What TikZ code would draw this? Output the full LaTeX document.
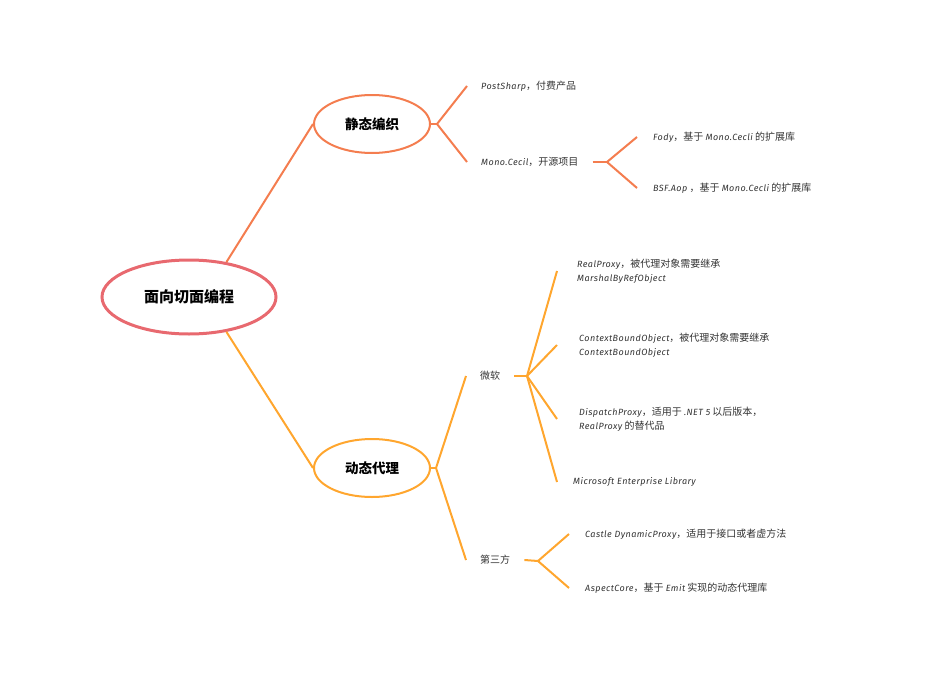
\documentclass[tikz,border=0pt]{standalone}
\usepackage{fontspec}
\setmainfont{Noto Sans CJK SC}
\newfontfamily\enfont[LetterSpace=5,Scale=0.9]{Fira Sans}
\newcommand\en[1]{{\enfont\itshape #1}}
\usetikzlibrary{shapes.geometric}
\definecolor{rootred}{HTML}{E8696F}
\definecolor{statorange}{HTML}{F47D4F}
\definecolor{dynamber}{HTML}{FFA62E}
\tikzset{
	topic/.style={ellipse,draw,line width=2pt,fill=white,inner sep=0pt,minimum width=116pt,minimum height=58pt,font=\bfseries\fontsize{13.5}{16}\selectfont},
	leaf/.style={anchor=west,align=left,text=black!80,inner xsep=16pt,inner ysep=0pt,font=\fontsize{10}{14}\selectfont},
	twig/.style={anchor=west,text=black!80,inner xsep=14pt,inner ysep=0pt,font=\fontsize{10}{14}\selectfont},
}
\begin{document}
\begin{tikzpicture}[x=1pt,y=-1pt]
		\useasboundingbox (0,0) rectangle (945,685);
		
		\node[ellipse,draw=rootred,line width=3pt,inner sep=0pt,minimum width=174pt,minimum height=74pt,font=\bfseries\fontsize{15}{18}\selectfont] (root) at (189,297) {面向切面编程};
		
		\node[topic,draw=statorange] (static) at (372,124) {静态编织};
		\node[topic,draw=dynamber] (dynamic) at (372,468) {动态代理};
		
		\draw[statorange,line width=2pt] (root.43) -- (static.west);
		\draw[dynamber,line width=2pt] (root.-43) -- (dynamic.west);
		
		% static weaving
		\coordinate (js) at (437,124);
		\node[twig] (post) at (467,86) {\en{PostSharp}，付费产品};
		\node[twig] (mono) at (467,162) {\en{Mono.Cecil}，开源项目};
		\coordinate (jm) at (607,162);
		\node[leaf] (fody) at (637,137) {\en{Fody}，基于 \en{Mono.Cecli} 的扩展库};
		\node[leaf] (bsf) at (637,188) {\en{BSF.Aop} ，基于 \en{Mono.Cecli} 的扩展库};
		
		\draw[statorange,line width=2pt] (static.east) -- (js);
		\draw[statorange,line width=2pt] (js) -- (post.west);
		\draw[statorange,line width=2pt] (js) -- (mono.west);
		\draw[statorange,line width=2pt] (mono.east) -- (jm);
		\draw[statorange,line width=2pt] (jm) -- (fody.west);
		\draw[statorange,line width=2pt] (jm) -- (bsf.west);
		
		% dynamic proxy
		\coordinate (jd) at (436,468);
		\node[twig] (ms) at (466,376) {微软};
		\node[twig] (third) at (466,560) {第三方};
		\coordinate (jms) at (527,376);
		\node[leaf,inner xsep=20pt] (real) at (557,271) {\en{RealProxy}，被代理对象需要继承\\\en{MarshalByRefObject}};
		\node[leaf,inner xsep=22pt] (context) at (557,345) {\en{ContextBoundObject}，被代理对象需要继承\\\en{ContextBoundObject}};
		\node[leaf,inner xsep=22pt] (dispatch) at (557,419) {\en{DispatchProxy}，适用于 \en{.NET 5} 以后版本，\\\en{RealProxy} 的替代品};
		\node[leaf] (entlib) at (557,482) {\en{Microsoft Enterprise Library}};
		\coordinate (jth) at (538,561);
		\node[leaf] (castle) at (569,534) {\en{Castle DynamicProxy}，适用于接口或者虚方法};
		\node[leaf] (aspect) at (569,588) {\en{AspectCore}，基于 \en{Emit} 实现的动态代理库};
		
		\draw[dynamber,line width=2pt] (dynamic.east) -- (jd);
		\draw[dynamber,line width=2pt] (jd) -- (ms.west);
		\draw[dynamber,line width=2pt] (jd) -- (third.west);
		\draw[dynamber,line width=2pt] (ms.east) -- (jms);
		\draw[dynamber,line width=2pt] (jms) -- (real.west);
		\draw[dynamber,line width=2pt] (jms) -- (context.west);
		\draw[dynamber,line width=2pt] (jms) -- (dispatch.west);
		\draw[dynamber,line width=2pt] (jms) -- (entlib.west);
		\draw[dynamber,line width=2pt] (third.east) -- (jth);
		\draw[dynamber,line width=2pt] (jth) -- (castle.west);
		\draw[dynamber,line width=2pt] (jth) -- (aspect.west);
	\end{tikzpicture}
\end{document}
